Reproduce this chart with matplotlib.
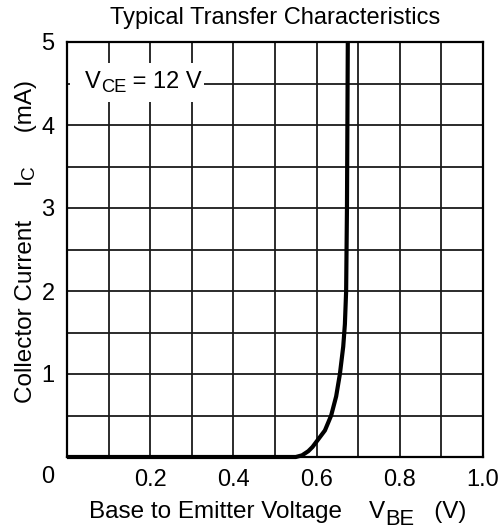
import matplotlib
matplotlib.use("Agg")
import matplotlib.pyplot as plt
from matplotlib.transforms import IdentityTransform
from matplotlib.patches import Rectangle
import numpy as np

plt.rcParams['font.family'] = ['Liberation Sans', 'DejaVu Sans']

# Data
vbe = [0.0, 0.50, 0.55, 0.565, 0.58, 0.59, 0.605, 0.62, 0.635, 0.647, 0.656, 0.664, 0.668, 0.671, 0.673, 0.674, 0.675]
ic = [0.0, 0.0, 0.0, 0.02, 0.07, 0.12, 0.22, 0.32, 0.5, 0.73, 1.0, 1.33, 1.6, 2.0, 3.0, 4.0, 5.0]

xticks = [0.2, 0.4, 0.6, 0.8, 1.0]
xticklabels = ["0.2", "0.4", "0.6", "0.8", "1.0"]
yticks = [1, 2, 3, 4, 5]
yticklabels = ["1", "2", "3", "4", "5"]

W, H = 503, 529
FS = 17
LFS = 17.5
fig = plt.figure(figsize=(W / 100, H / 100), dpi=100)
ax = fig.add_axes([67 / W, 1 - 457 / H, 416 / W, 415 / H])
ax.set_xlim(0, 1.0)
ax.set_ylim(0, 5)

# grid
for gx in np.arange(0.1, 1.0, 0.1):
    ax.axvline(gx, color='#1a1a1a', lw=1.3, zorder=1)
for gy in np.arange(0.5, 5.0, 0.5):
    ax.axhline(gy, color='#1a1a1a', lw=1.3, zorder=1)

ax.plot(vbe, ic, color='black', lw=3.0, zorder=3, solid_capstyle='butt', clip_on=False)

for s in ax.spines.values():
    s.set_linewidth(1.6)
    s.set_color('black')

ax.set_xticks(xticks)
ax.set_xticklabels(xticklabels)
ax.set_yticks(yticks)
ax.set_yticklabels(yticklabels)
ax.tick_params(length=0, labelsize=FS)
ax.tick_params(axis='x', pad=8.5)
for lbl in ax.get_yticklabels():
    lbl.set_horizontalalignment('center')
ax.tick_params(axis='y', pad=13.7)

fig.canvas.draw()
renderer = fig.canvas.get_renderer()


def compose(x, y, pieces, fs, rotation=0, zorder=5):
    """x, y: image pixel coords (from top-left) of the baseline start."""
    px, py = x, H - y
    for txt, scale, dy in pieces:
        if rotation == 0:
            t = fig.text(px, py - dy, txt, transform=IdentityTransform(), fontsize=fs * scale,
                         ha='left', va='baseline', zorder=zorder)
            px += t.get_window_extent(renderer).width
        else:
            t = fig.text(px + dy, py, txt, transform=IdentityTransform(), fontsize=fs * scale,
                         ha='left', va='baseline', rotation=90, rotation_mode='anchor', zorder=zorder)
            py += t.get_window_extent(renderer).height


# corner "0"
fig.text(48, H - 477, "0", transform=IdentityTransform(), fontsize=FS, ha='center', va='center')

# V_CE annotation with white box over the grid
ax.add_patch(Rectangle((0.007, 4.28), 0.323, 0.47, facecolor='white', edgecolor='none', zorder=2))
compose(85, 88, [("V", 1, 0), ("CE", 0.78, 4), (" = 12 V", 1, 0)], FS)

# title
fig.text(275, H - 18, "Typical Transfer Characteristics", transform=IdentityTransform(),
         fontsize=FS, ha='center', va='center')

# x label
compose(89, 518, [("Base to Emitter Voltage    V", 1, 0), ("BE", 0.9, 7), ("   (V)", 1, 0)], LFS)

# y label (rotated)
compose(32, 403, [("Collector Current     I", 1, 0), ("C", 0.78, 2), ("     (mA)", 1, 0)], LFS, rotation=90)

fig.savefig("out.png", dpi=100)
